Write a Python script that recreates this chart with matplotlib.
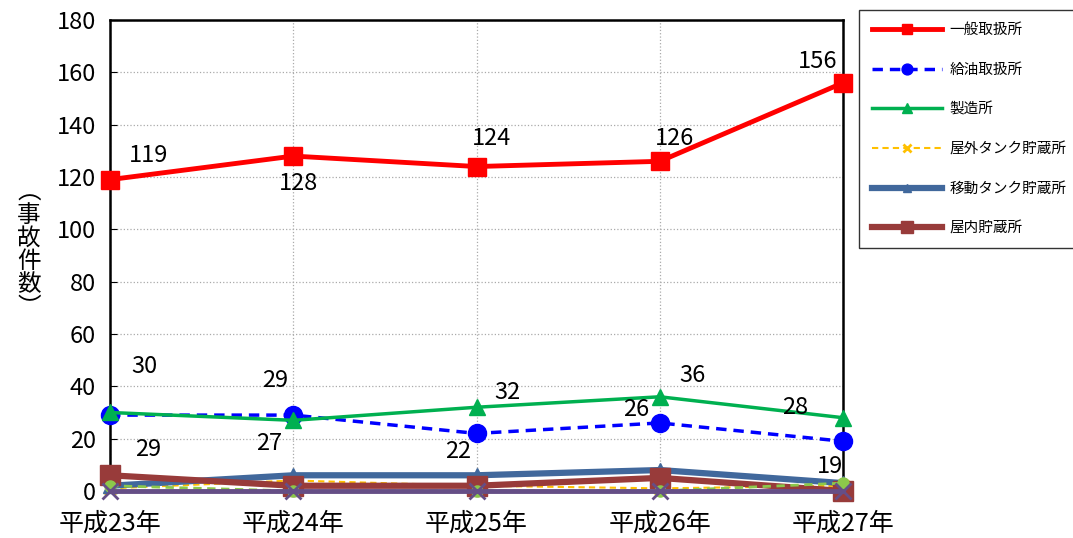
import matplotlib
matplotlib.use("Agg")
import matplotlib.pyplot as plt

plt.rcParams['font.family'] = ['Noto Sans CJK JP', 'DejaVu Sans']

years = ["平成23年", "平成24年", "平成25年", "平成26年", "平成27年"]

ippan = [119, 128, 124, 126, 156]       # 一般取扱所
kyuyu = [29, 29, 22, 26, 19]            # 給油取扱所
seizo = [30, 27, 32, 36, 28]            # 製造所
okugai_tank = [1, 4, 2, 1, 2]           # 屋外タンク貯蔵所
ido_tank = [2, 6, 6, 8, 3]              # 移動タンク貯蔵所
okunai = [6, 2, 2, 5, 0]                # 屋内貯蔵所
other1 = [2, 0, 0, 0, 3]                # (not in legend)
other2 = [0, 0, 0, 0, 0]                # (not in legend)

# label offsets (dx, dy) for the three labelled series
ippan_off = [(0.21, 9.4), (0.03, -10.3), (0.08, 10.9), (0.08, 8.9), (-0.14, 8)]
kyuyu_off = [(0.21, -13), (-0.1, 13.4), (-0.1, -7.1), (-0.13, 5), (-0.07, -9.5)]
seizo_off = [(0.19, 17.4), (-0.13, -8.7), (0.17, 5.5), (0.18, 8.3), (-0.26, 4)]

x = list(range(len(years)))

fig = plt.figure(figsize=(10.73, 5.38), dpi=100)
ax = fig.add_axes([0.1025, 0.0874, 0.6832, 0.8754])

ax.plot(x, ippan, color="#FF0000", lw=3.5, marker="s", ms=13, label="一般取扱所", clip_on=False, zorder=5)
ax.plot(x, kyuyu, color="#0000FF", lw=2.5, ls=(0, (3, 2)), marker="o", ms=13, label="給油取扱所", clip_on=False, zorder=4)
ax.plot(x, seizo, color="#00B050", lw=2.5, marker="^", ms=11, label="製造所", clip_on=False, zorder=4)
ax.plot(x, okugai_tank, color="#FFC000", lw=1.5, ls=(0, (3, 2)), marker="x", ms=9, mew=2, label="屋外タンク貯蔵所", clip_on=False, zorder=3)
ax.plot(x, ido_tank, color="#41689C", lw=4.5, marker="^", ms=10, label="移動タンク貯蔵所", clip_on=False, zorder=3)
ax.plot(x, okunai, color="#983B3A", lw=4.5, marker="s", ms=14, label="屋内貯蔵所", clip_on=False, zorder=3)
ax.plot(x, other1, color="#8CC84B", lw=2, ls=(0, (3, 2)), marker="o", ms=8, clip_on=False, zorder=3)
ax.plot(x, other2, color="#654E86", lw=3.5, marker="x", ms=11, mew=2, clip_on=False, zorder=3)

for vals, offs in [(ippan, ippan_off), (kyuyu, kyuyu_off), (seizo, seizo_off)]:
    for i, v in enumerate(vals):
        dx, dy = offs[i]
        ax.text(i + dx, v + dy, str(v), fontsize=17, ha="center", va="center", zorder=6)

ax.set_xlim(0, 4)
ax.set_ylim(0, 180)
ax.set_yticks(range(0, 181, 20))
ax.set_xticks(x)
ax.set_xticklabels(years, fontsize=18)
ax.tick_params(axis="y", direction="in", length=5, labelsize=17, pad=10)
ax.tick_params(axis="x", length=0, pad=14)
ax.grid(True, color="#AAAAAA", ls=":", lw=0.9)
for s in ax.spines.values():
    s.set_color("black")
    s.set_linewidth(1.8)

fig.text(0.027, 0.535, "\n".join(["︵", "事", "故", "件", "数", "︶"]), fontsize=17,
         ha="center", va="center", linespacing=1.0)

leg = fig.legend(loc="upper left", bbox_to_anchor=(0.8006, 0.981), fontsize=10.5,
                 handlelength=4.8, handletextpad=0.5, labelspacing=1.75, borderpad=0.9,
                 borderaxespad=0, frameon=True, fancybox=False, edgecolor="black",
                 markerscale=0.6)
leg.get_frame().set_linewidth(1.0)

fig.savefig("out.png", dpi=100)
